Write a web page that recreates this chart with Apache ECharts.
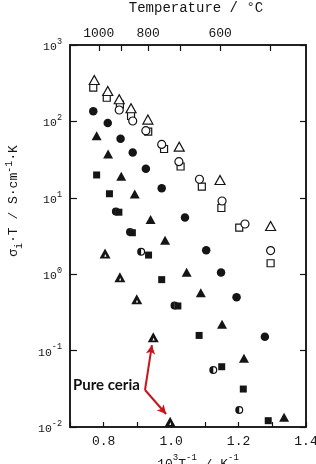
<!DOCTYPE html>
<html><head><meta charset="utf-8">
<script src="https://cdn.jsdelivr.net/npm/echarts@6/dist/echarts.min.js"></script>
<style>html,body{margin:0;padding:0;background:#fff}#c{width:316px;height:464px}</style>
</head><body><div id="c"></div>
<script>
// Data (x = 1000/T in 1/K, y = sigma_i*T in S cm^-1 K)
const openTriangles = [[0.772,348],[0.812,250],[0.846,194.7],[0.881,148.4],[0.931,105.6],[1.024,46.7],[1.145,17.1],[1.295,4.27]];
const openCircles = [[0.846,141],[0.886,101.2],[0.925,75.5],[0.972,49.9],[1.023,29.7],[1.084,17.5],[1.151,9.08],[1.219,4.54],[1.295,2.04]];
const openSquares = [[0.769,276],[0.809,204],[0.848,166],[0.881,117.7],[0.932,73.3],[0.979,43.5],[1.028,25.7],[1.091,14.0],[1.149,7.35],[1.202,4.08],[1.295,1.39]];
const filledCircles = [[0.769,135.5],[0.812,95.3],[0.850,59.2],[0.886,39.2],[0.925,24.0],[0.972,13.3],[1.041,5.52],[1.104,2.06],[1.148,1.05],[1.194,0.499],[1.278,0.152]];
const filledTriangles = [[0.779,64.8],[0.813,37.4],[0.852,19.1],[0.892,11.2],[0.939,5.2],[0.982,2.78],[1.046,1.06],[1.088,0.573],[1.151,0.222],[1.216,0.0793],[1.335,0.0134]];
const filledSquares = [[0.779,19.9],[0.817,11.3],[0.845,6.48],[0.885,3.49],[0.933,1.78],[0.972,0.849],[1.020,0.384],[1.083,0.158],[1.150,0.0615],[1.214,0.0314],[1.288,0.0121]];
const halfCircles = [[0.836,6.62],[0.878,3.57],[0.911,1.97],[1.010,0.389],[1.125,0.0557],[1.202,0.0167]];
const pureCeria = [[0.804,1.87],[0.848,0.914],[0.898,0.471],[0.947,0.150],[0.997,0.0117]];
const arrowStart = [0.9225,0.0305];
const arrowEnds = [[0.943,0.118],[0.985,0.0148]];
const tempTicks = [1000,900,800,700,600,500];
const tempLabels = [1000,800,600];
const annotationText = 'Pure ceria';

const ink = '#151515';
const mono = 'Liberation Mono';
const toInv = t => 1000/(t+273.15);
const halfPath = 'path://M0,-10A10,10 0 1,1 0,10A10,10 0 1,1 0,-10ZM0,-7L0,7A7,7 0 0,0 0,-7Z';
const thickTri = 'path://M0,-10L10,8L-10,8ZM0.5,0L-1.5,5L2.5,5Z';

const chart = echarts.init(document.getElementById('c'), null, {renderer:'canvas'});
const supRich = {
  b:{fontFamily:mono,fontSize:11.5,color:ink,verticalAlign:'bottom',lineHeight:16},
  s:{fontFamily:mono,fontSize:8.5,color:ink,verticalAlign:'top',lineHeight:16}
};
function sc(name,data,symbol,size,filled,extra){
  return Object.assign({
    type:'scatter',name:name,data:data,symbol:symbol,symbolSize:size,
    xAxisIndex:0,yAxisIndex:0,
    itemStyle:{color:filled?ink:'#fff',borderColor:ink,borderWidth:filled?0:1.2,opacity:1},
    emphasis:{disabled:true},z:3
  },extra||{});
}
chart.setOption({
  animation:false,
  backgroundColor:'#fff',
  grid:{left:70,right:10,top:45,bottom:37,containLabel:false,outerBoundsMode:'none',
    show:true,borderColor:ink,borderWidth:1.5,backgroundColor:'transparent'},
  xAxis:[{
    type:'value',min:0.7,max:1.4,interval:0.1,position:'bottom',
    axisLine:{show:true,onZero:false,lineStyle:{color:ink,width:1.5}},
    axisTick:{show:true,inside:true,length:5,lineStyle:{color:ink,width:1.2}},
    splitLine:{show:false},
    axisLabel:{margin:8,fontFamily:mono,fontSize:13,color:ink,
      formatter:v=>{const k=Math.round(v*10);return (k%2===0)?(k/10).toFixed(1):'';}},
    name:'{b|10}{s|3}{b|T}{s|-1}{b| / K}{s|-1}',nameLocation:'middle',nameGap:21,
    nameTextStyle:{padding:[0,0,0,20],rich:{b:{fontFamily:mono,fontSize:13,color:ink,verticalAlign:'bottom',lineHeight:18},s:{fontFamily:mono,fontSize:9,color:ink,verticalAlign:'top',lineHeight:18}}}
  },{
    type:'value',min:0.7,max:1.4,position:'top',
    axisLine:{show:true,onZero:false,lineStyle:{color:ink,width:1.5}},
    axisTick:{show:true,inside:true,length:6,customValues:tempTicks.map(toInv),lineStyle:{color:ink,width:1.2}},
    splitLine:{show:false},
    axisLabel:{margin:5,fontFamily:mono,fontSize:13,color:ink,customValues:tempLabels.map(toInv),
      formatter:v=>String(Math.round((1000/v-273.15)/10)*10)},
    name:'Temperature / °C',nameLocation:'middle',nameGap:30,
    nameTextStyle:{fontFamily:mono,fontSize:14,color:ink,padding:[0,0,0,16]}
  }],
  yAxis:[{
    type:'log',logBase:10,min:0.01,max:1000,position:'left',
    axisLine:{show:true,onZero:false,lineStyle:{color:ink,width:1.5}},
    axisTick:{show:true,inside:true,length:7,lineStyle:{color:ink,width:1.2}},
    minorTick:{show:false},splitLine:{show:false},
    axisLabel:{margin:8,
      formatter:v=>{const e=Math.round(Math.log10(v));return '{b|10}{s|'+e+'}';},
      rich:supRich},
    name:'{b|σ}{d|i}{b|·T / S·cm}{u|-1}{b|·K}',nameLocation:'middle',nameGap:46,nameRotate:90,
    nameTextStyle:{padding:[0,0,0,70],rich:{
      b:{fontFamily:mono,fontSize:13,color:ink,verticalAlign:'middle',lineHeight:20},
      d:{fontFamily:mono,fontSize:10,color:ink,verticalAlign:'bottom',lineHeight:20},
      u:{fontFamily:mono,fontSize:10,color:ink,verticalAlign:'top',lineHeight:20}}}
  },{
    type:'log',logBase:10,min:0.01,max:1000,position:'right',
    axisLine:{show:true,onZero:false,lineStyle:{color:ink,width:1.5}},
    axisTick:{show:true,inside:true,length:6,lineStyle:{color:ink,width:1.2}},
    axisLabel:{show:false},splitLine:{show:false}
  }],
  series:[
    sc('open squares',openSquares,'rect',7,false),
    sc('open circles',openCircles,'circle',8,false),
    sc('open triangles',openTriangles,'triangle',[10,9],false),
    sc('filled circles',filledCircles,'circle',8.5,true),
    sc('filled triangles',filledTriangles,'triangle',[10,9],true),
    sc('half circles',halfCircles,halfPath,8,true),
    sc('filled squares',filledSquares,'rect',7,true),
    sc('pure ceria',pureCeria,thickTri,[11,10],true,{
      markLine:{silent:true,animation:false,symbol:['none','arrow'],symbolSize:[7,9],
        label:{show:false},emphasis:{disabled:true},
        lineStyle:{color:'#c4161c',width:2,type:'solid'},
        data:arrowEnds.map(e=>[{coord:arrowStart},{coord:e}])}
    })
  ],
  graphic:[{type:'text',left:73,top:378,style:{text:annotationText,fontFamily:'Lato',fontWeight:'bold',fontSize:15,fill:'#111'}}]
});
</script></body></html>
